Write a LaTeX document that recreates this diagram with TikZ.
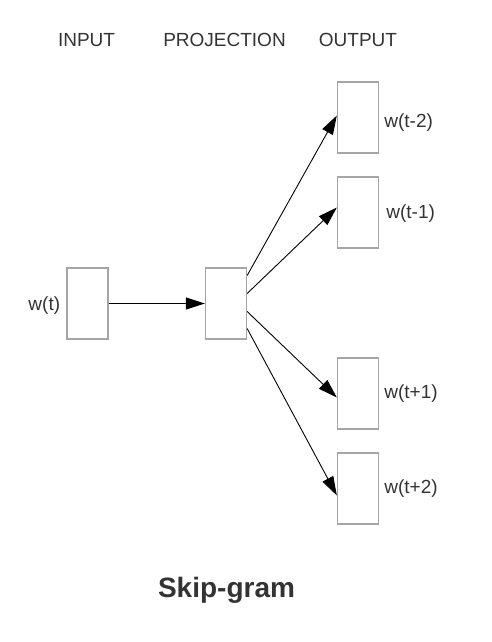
\documentclass[tikz,border=0pt]{standalone}
\usepackage{fontspec}
\setmainfont{Liberation Sans}
\usetikzlibrary{positioning,arrows.meta}
\definecolor{txt}{RGB}{51,51,51}
\definecolor{boxline}{RGB}{165,165,165}

\begin{document}
\begin{tikzpicture}[x=1pt,y=-1pt,
  box/.style = {draw=boxline, line width=1.3pt, minimum width=41pt, minimum height=71pt, inner sep=0pt},
  lbl/.style = {text=txt, font=\fontsize{19}{19}\selectfont, inner sep=0pt},
  arr/.style = {-{Triangle[length=19pt,width=12pt]}, line width=0.9pt}]
\useasboundingbox (0,0) rectangle (492,642);
% column titles
\node[lbl,anchor=base] (tin) at (86.5,47) {INPUT};
\node[lbl,anchor=base] (tproj) at (224.5,47) {PROJECTION};
\node[lbl,anchor=base] (tout) at (358,47) {OUTPUT};
% boxes
\node[box] (in) at (87.5,303.5) {};
\node[box] (proj) at (226,303.5) {};
\node[box] (o1) at (358,117.5) {};
\node[box] (o2) at (358,212.5) {};
\node[box] (o3) at (358,393.5) {};
\node[box] (o4) at (358,488.5) {};
% word labels
\node[lbl] (win) [left=6pt of in,yshift=-2pt] {w(t)};
\node[lbl] (w1) [right=5pt of o1,yshift=-5pt] {w(t-2)};
\node[lbl] (w2) [right=7pt of o2,yshift=-1pt] {w(t-1)};
\node[lbl] (w3) [right=5pt of o3] {w(t+1)};
\node[lbl] (w4) [right=5pt of o4] {w(t+2)};
% arrows
\draw[arr] (in.east) -- (proj.west);
\draw[arr] ([yshift=28pt]proj.east) -- ([yshift=2pt]o1.west);
\draw[arr] ([yshift=10pt]proj.east) -- ([yshift=5pt]o2.west);
\draw[arr] ([yshift=-8pt]proj.east) -- ([yshift=-4pt]o3.west);
\draw[arr] ([yshift=-25pt]proj.east) -- ([yshift=-7pt]o4.west);
% title
\node[text=txt,font=\fontsize{28}{28}\selectfont\bfseries,anchor=base] (title) at (226.5,597) {Skip-gram};
\end{tikzpicture}
\end{document}
